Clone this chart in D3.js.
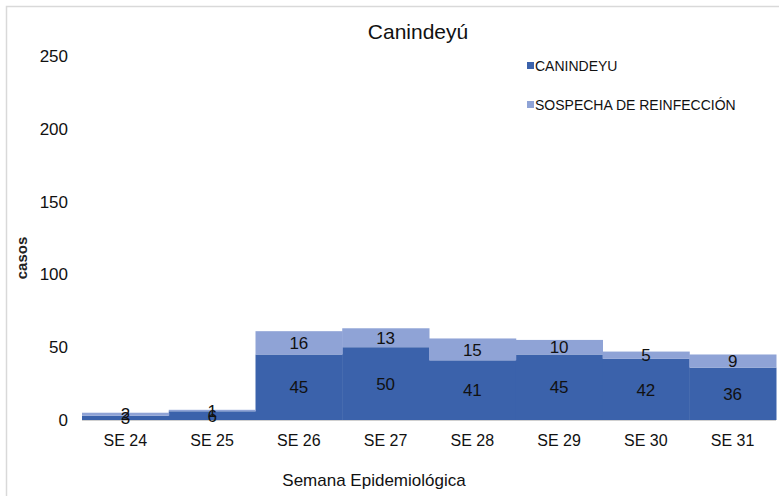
<!DOCTYPE html>
<html>
<head>
<meta charset="utf-8">
<script src="https://cdn.jsdelivr.net/npm/d3@7"></script>
<style>
  html, body { margin: 0; padding: 0; background: #fff; }
  svg { display: block; font-family: "Liberation Sans", Arial, sans-serif; }
</style>
</head>
<body>
<svg id="chart" width="779" height="496"></svg>
<script>
// Weekly cases, stacked: confirmed (CANINDEYU) + suspected reinfection
const weeks = ["SE 24", "SE 25", "SE 26", "SE 27", "SE 28", "SE 29", "SE 30", "SE 31"];
const canindeyu = [3, 6, 45, 50, 41, 45, 42, 36];
const reinfeccion = [2, 1, 16, 13, 15, 10, 5, 9];
const seriesNames = ["CANINDEYU", "SOSPECHA DE REINFECCIÓN"];
const yTicks = [0, 50, 100, 150, 200, 250];
const colors = ["#3b62ab", "#8fa3d6"];

const svg = d3.select("#chart");
const W = 779, H = 496;
const m = { left: 82, right: 3, top: 56, bottom: 76 };

// outer frame
svg.append("rect").attr("x", 6.5).attr("y", 6.5).attr("width", W).attr("height", H)
  .attr("fill", "none").attr("stroke", "#d9d9d9").attr("stroke-width", 1.5);

const x = d3.scaleBand().domain(weeks).range([m.left, W - m.right]).padding(0);
const y = d3.scaleLinear().domain([0, 250]).range([H - m.bottom, m.top]);

const rows = weeks.map((w, i) => ({ week: w, CANINDEYU: canindeyu[i], "SOSPECHA DE REINFECCIÓN": reinfeccion[i] }));
const stacked = d3.stack().keys(seriesNames)(rows);

// bars (no gap between weeks)
const layers = svg.append("g").selectAll("g").data(stacked).join("g")
  .attr("fill", (d, i) => colors[i]);
layers.selectAll("rect").data(d => d).join("rect")
  .attr("x", d => x(d.data.week))
  .attr("width", x.bandwidth() + 0.5)
  .attr("y", d => y(d[1]))
  .attr("height", d => y(d[0]) - y(d[1]));

// baseline
svg.append("line").attr("x1", m.left).attr("x2", W - m.right)
  .attr("y1", y(0) + 0.5).attr("y2", y(0) + 0.5)
  .attr("stroke", "#d0d0d0").attr("stroke-width", 1);

// value labels centred in each segment
const labels = svg.append("g").attr("font-size", 17).attr("fill", "#111").attr("text-anchor", "middle");
stacked.forEach(layer => {
  labels.selectAll(null).data(layer).join("text")
    .attr("x", d => x(d.data.week) + x.bandwidth() / 2)
    .attr("y", d => (y(d[0]) + y(d[1])) / 2)
    .attr("dy", "0.36em")
    .text(d => d[1] - d[0]);
});

// y axis (labels only)
const yAxis = d3.axisLeft(y).tickValues(yTicks).tickSize(0).tickPadding(14);
const gy = svg.append("g").attr("transform", `translate(${m.left},0)`).call(yAxis);
gy.select(".domain").remove();
gy.selectAll("text").attr("font-size", 17).attr("fill", "#111")
  .attr("font-family", "Liberation Sans, Arial, sans-serif");

// x axis (labels only)
const xAxis = d3.axisBottom(x).tickSize(0).tickPadding(15);
const gx = svg.append("g").attr("transform", `translate(0,${y(0)})`).call(xAxis);
gx.select(".domain").remove();
gx.selectAll("text").attr("font-size", 16).attr("fill", "#111")
  .attr("font-family", "Liberation Sans, Arial, sans-serif");

// titles
svg.append("text").attr("x", 418).attr("y", 39).attr("text-anchor", "middle")
  .attr("font-size", 21).attr("fill", "#111").text("Canindeyú");
svg.append("text").attr("x", 374).attr("y", 486).attr("text-anchor", "middle")
  .attr("font-size", 17).attr("fill", "#111").text("Semana Epidemiológica");
svg.append("text").attr("transform", "translate(27,258) rotate(-90)")
  .attr("text-anchor", "middle").attr("font-size", 15).attr("font-weight", "bold")
  .attr("fill", "#222").text("casos");

// legend
const legend = svg.append("g");
seriesNames.forEach((name, i) => {
  const ly = 66 + i * 39;
  legend.append("rect").attr("x", 527).attr("y", ly - 4).attr("width", 7).attr("height", 7)
    .attr("fill", colors[i]);
  legend.append("text").attr("x", 535).attr("y", ly).attr("dy", "0.36em")
    .attr("font-size", 14).attr("fill", "#111")
    .attr("font-family", "Liberation Sans Narrow, Arial Narrow, Liberation Sans, sans-serif")
    .text(name);
});
</script>
</body>
</html>
